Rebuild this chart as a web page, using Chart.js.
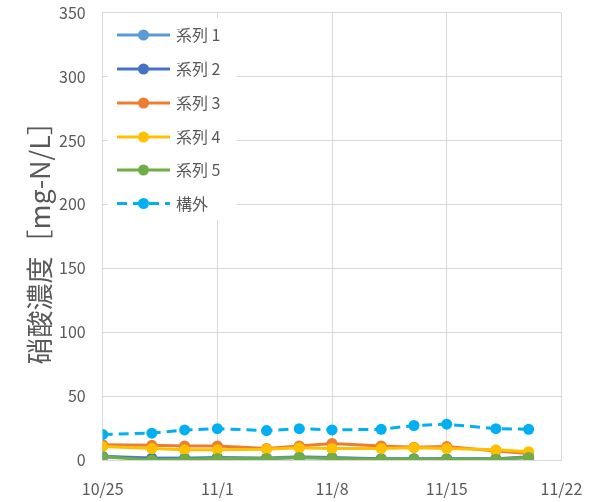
<!DOCTYPE html>
<html>
<head>
<meta charset="utf-8">
<script src="https://cdn.jsdelivr.net/npm/chart.js@4"></script>
<style>
  html, body { margin: 0; padding: 0; background: #fff; }
  #wrap { width: 600px; height: 502px; }
</style>
</head>
<body>
<div id="wrap"><canvas id="chart" width="600" height="502"></canvas></div>
<script>
const dates = ['10/25', '10/28', '10/30', '11/1', '11/4', '11/6', '11/8', '11/11', '11/13', '11/15', '11/18', '11/20'];
const tickLabels = ['10/25', '11/1', '11/8', '11/15', '11/22'];
const seriesNames = ['系列 1', '系列 2', '系列 3', '系列 4', '系列 5', '構外'];

const series1 = [3, 1.5, 1.5, 2, 1.5, 2.5, 2, 1, 1, 1, 1, 2.5];
const series2 = [2.5, 1.2, 1, 1.5, 1.2, 2, 1.5, 0.8, 0.8, 0.8, 0.8, 2];
const series3 = [12, 11.5, 11, 11, 9, 11, 13, 11, 10, 10.5, 7, 5];
const series4 = [10.5, 9, 8, 8, 8.5, 9.5, 9, 9, 9.5, 9, 8, 6.5];
const series5 = [2.5, 0, 0.5, 1.2, 1.2, 2, 1.2, 0.5, 0.5, 0.5, 0.5, 2];
const outside = [20, 21, 23.5, 24.5, 23, 24.5, 23.5, 24, 27, 28, 24.5, 24];

const colors = ['#5B9BD5', '#4472C4', '#ED7D31', '#FFC000', '#70AD47', '#00B0F0'];
const textColor = '#595959';
const gridColor = '#d9d9d9';
const font = "'Noto Sans CJK JP', 'Noto Sans', sans-serif";

// days since 10/25
function dayOf(s) {
    const [m, d] = s.split('/').map(Number);
    return m === 10 ? d - 25 : d + 6;
}

const allValues = [series1, series2, series3, series4, series5, outside];

const datasets = allValues.map((vals, i) => ({
    label: seriesNames[i],
    data: vals.map((v, j) => ({ x: dayOf(dates[j]), y: v })),
    borderColor: colors[i],
    backgroundColor: colors[i],
    borderWidth: 3,
    borderDash: i === 5 ? [10, 6] : [],
    pointRadius: 5.5,
    pointBorderWidth: 0,
    pointBackgroundColor: colors[i],
    tension: 0,
    order: allValues.length - i
}));

const legendInside = {
    id: 'legendInside',
    afterDraw(chart) {
        const ctx = chart.ctx;
        ctx.save();
        ctx.fillStyle = '#fff';
        ctx.fillRect(108, 18, 129, 202);
        const ys = [35, 69, 103, 137, 170, 203.5];
        chart.data.datasets.forEach((ds, i) => {
            const y = ys[i];
            ctx.strokeStyle = ds.borderColor;
            ctx.lineWidth = 3;
            ctx.setLineDash(ds.borderDash);
            ctx.lineDashOffset = 0;
            ctx.beginPath();
            ctx.moveTo(117, y);
            ctx.lineTo(170, y);
            ctx.stroke();
            ctx.setLineDash([]);
            ctx.fillStyle = ds.borderColor;
            ctx.beginPath();
            ctx.arc(143.5, y, 5.5, 0, Math.PI * 2);
            ctx.fill();
            ctx.fillStyle = textColor;
            ctx.font = '16px ' + font;
            ctx.textBaseline = 'middle';
            ctx.textAlign = 'left';
            ctx.fillText(ds.label, 176, y);
        });
        ctx.restore();
    }
};

new Chart(document.getElementById('chart'), {
    type: 'line',
    data: { datasets },
    options: {
        responsive: false,
        animation: false,
        layout: { padding: { top: 12.7, right: 38.6, bottom: 0, left: 0 } },
        plugins: {
            legend: { display: false },
            tooltip: { enabled: false }
        },
        scales: {
            x: {
                type: 'linear',
                min: 0,
                max: 28,
                afterFit: (s) => {
                    s.height = 42;
                    s.paddingLeft = 0;
                    s.paddingRight = 0;
                },
                afterBuildTicks: (s) => {
                    s.ticks = tickLabels.map(t => ({ value: dayOf(t) }));
                },
                ticks: {
                    color: textColor,
                    font: { family: font, size: 16 },
                    padding: 19,
                    maxRotation: 0,
                    callback: (v) => {
                        const t = tickLabels.find(l => dayOf(l) === v);
                        return t || '';
                    }
                },
                grid: { color: gridColor, lineWidth: 1, drawTicks: false },
                border: { color: gridColor }
            },
            y: {
                min: 0,
                max: 350,
                afterFit: (s) => {
                    s.width = 102.7;
                    s.paddingTop = 0;
                    s.paddingBottom = 0;
                },
                ticks: {
                    stepSize: 50,
                    color: textColor,
                    font: { family: font, size: 16 },
                    padding: 17
                },
                grid: { color: gridColor, lineWidth: 1, drawTicks: false },
                border: { color: gridColor },
                title: {
                    display: true,
                    text: '硝酸濃度［mg-N/L］',
                    color: textColor,
                    font: { family: font, size: 27 },
                    padding: { top: 24, bottom: 0 }
                }
            }
        }
    },
    plugins: [legendInside]
});
</script>
</body>
</html>
